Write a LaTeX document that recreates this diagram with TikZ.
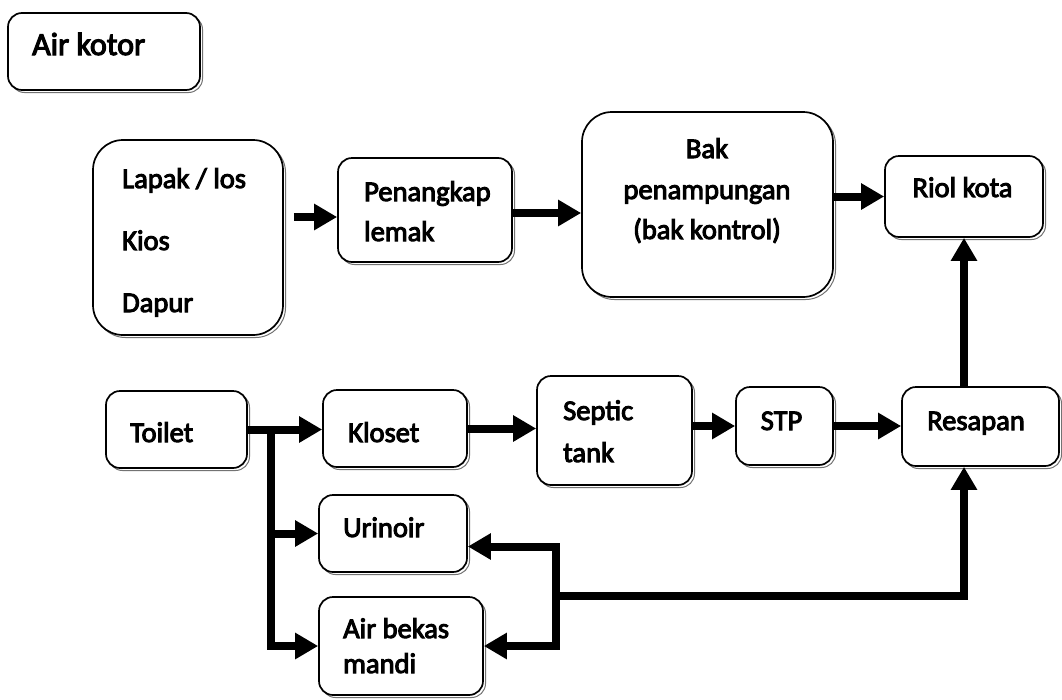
\documentclass[tikz,border=0pt]{standalone}
\usepackage{fontspec}
\newfontfamily\diagfont{Carlito}[FakeBold=3.5]
\usetikzlibrary{arrows.meta,shadows}
\tikzset{
  box/.style={draw, line width=1.7pt, fill=white, rounded corners=14pt,
    general shadow={draw=black!55, line width=1pt, fill=white,
      shadow xshift=2.5pt, shadow yshift=-2.5pt},
    inner sep=0pt},
  bigbox/.style={box, rounded corners=30pt},
  txt/.style={inner sep=0pt, anchor=base west},
  ctxt/.style={inner sep=0pt, anchor=base},
  flow/.style={line width=8pt, line join=miter, -{Triangle[length=23pt,width=25pt]}},
}
\begin{document}
\begin{tikzpicture}[x=1pt, y=-1pt, font=\diagfont\fontsize{28.5}{34}\selectfont]
\useasboundingbox (0,0) rectangle (1062,699);

% ---- boxes ----
\node[box, minimum width=192pt, minimum height=77pt] (airkotor) at (104,51.5) {};

\node[bigbox, minimum width=190pt, minimum height=195pt] (lapak) at (188,237.5) {};
\node[box, minimum width=174pt, minimum height=104pt] (penangkap) at (425,210) {};
\node[bigbox, minimum width=251pt, minimum height=185pt] (bak) at (707.5,204.5) {};
\node[box, minimum width=158pt, minimum height=81pt] (riol) at (964,196.5) {};

\node[box, minimum width=141pt, minimum height=77pt] (toilet) at (176.5,429.5) {};
\node[box, minimum width=144pt, minimum height=77pt] (kloset) at (395,428.5) {};
\node[box, minimum width=155pt, minimum height=109pt] (septic) at (614.5,430.5) {};
\node[box, minimum width=97pt, minimum height=78pt] (stp) at (784.5,426) {};
\node[box, minimum width=157pt, minimum height=79pt] (resapan) at (980.5,426.5) {};
\node[box, minimum width=148pt, minimum height=77pt] (urinoir) at (393,533.5) {};
\node[box, minimum width=164pt, minimum height=98pt] (airbekas) at (401,646) {};

% ---- labels ----
\node[txt, font=\diagfont\fontsize{32}{38}\selectfont] (airkotor-1) at (32,55) {Air kotor};

\node[txt] (lapak-1) at (122,188) {Lapak / los};
\node[txt] (lapak-2) at (122,250) {Kios};
\node[txt] (lapak-3) at (122,312) {Dapur};

\node[txt] (penangkap-1) at (364,201) {Penangkap};
\node[txt] (penangkap-2) at (364,241) {lemak};

\node[ctxt] (bak-1) at (707,158) {Bak};
\node[ctxt] (bak-2) at (707,199) {penampungan};
\node[ctxt] (bak-3) at (707,239) {(bak kontrol)};

\node[ctxt] (riol-1) at (962.5,197) {Riol kota};

\node[txt] (toilet-1) at (130,442) {Toilet};
\node[txt] (kloset-1) at (348,442) {Kloset};
\node[txt] (septic-1) at (563,420) {Septic};
\node[txt] (septic-2) at (563,462) {tank};
\node[ctxt] (stp-1) at (781.5,430) {STP};
\node[txt] (resapan-1) at (927,430) {Resapan};
\node[txt] (urinoir-1) at (343,537) {Urinoir};
\node[txt] (airbekas-1) at (343,638) {Air bekas};
\node[txt] (airbekas-2) at (343,673) {mandi};

% ---- upper flow ----
\draw[flow] ([xshift=10pt,yshift=-7pt]lapak.east |- penangkap.west) -- ([yshift=-7pt]penangkap.west);
\draw[flow] ([yshift=-3pt]penangkap.east) -- ([yshift=-3pt]penangkap.east -| bak.west);
\draw[flow] (bak.east |- riol.west) -- (riol.west);
\draw[flow] (resapan.north -| riol.south) -- (riol.south);

% ---- toilet flow ----
\draw[flow] (toilet.east) -- (toilet.east -| kloset.west);
\draw[flow] (kloset.east) -- (kloset.east -| septic.west);
\draw[flow] (stp.west -| septic.east) -- (stp.west);
\draw[flow] (stp.east) -- (stp.east -| resapan.west);

% ---- branches from the toilet ----
\coordinate (tj) at ([xshift=23pt]toilet.east);
\draw[flow] (tj) |- (airbekas.west);
\draw[flow] (tj |- urinoir.west) -- (urinoir.west);

% ---- grey-water collector ----
\coordinate (bj) at ([xshift=88pt]urinoir.east |- airbekas.north);
\draw[flow] (bj) -| (resapan.south -| riol.south);
\draw[flow] (bj) |- ([yshift=-13pt]urinoir.east);
\draw[flow] (bj) |- (airbekas.east);
\end{tikzpicture}
\end{document}
